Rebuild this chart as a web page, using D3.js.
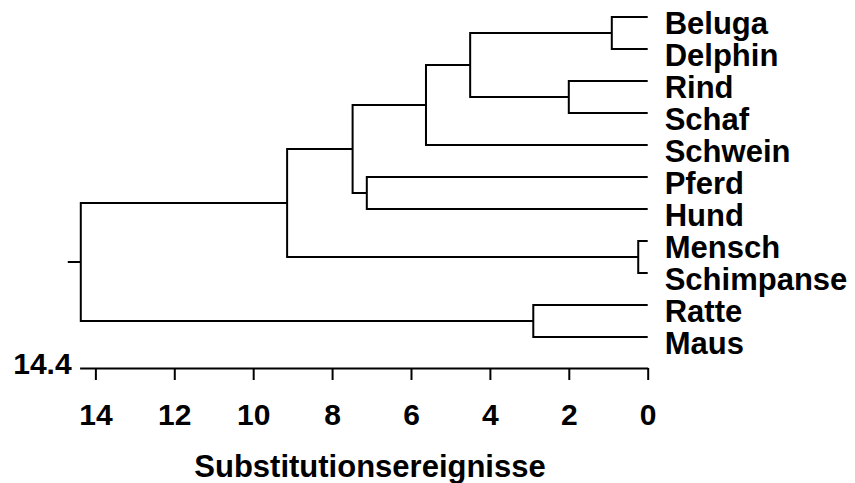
<!DOCTYPE html>
<html>
<head>
<meta charset="utf-8">
<script src="https://cdn.jsdelivr.net/npm/d3@7"></script>
<style>
  body { margin: 0; background: #fff; }
  text { font-family: "Liberation Sans", Arial, sans-serif; font-weight: bold; }
</style>
</head>
<body>
<script>
let width = 855;
let height = 483;

// leaves top to bottom
const leafNames = ["Beluga", "Delphin", "Rind", "Schaf", "Schwein", "Pferd",
  "Hund", "Mensch", "Schimpanse", "Ratte", "Maus"];

// merges: node id, left child, right child, height (substitution events)
const mergeIds    = ["n1", "n2", "n3", "n4", "n5", "n6", "n7", "n8", "n9", "n10"];
const mergeLeft   = ["Beluga", "Rind", "Mensch", "Ratte", "n1", "n5", "Pferd", "n6", "n8", "n9"];
const mergeRight  = ["Delphin", "Schaf", "Schimpanse", "Maus", "n2", "Schwein", "Hund", "n7", "n3", "n4"];
const mergeHeight = [0.91, 2.0, 0.24, 2.9, 4.5, 5.62, 7.12, 7.48, 9.14, 14.37];

const xTicks = [14, 12, 10, 8, 6, 4, 2, 0];
const xMax = 14.4;
const xTitle = "Substitutionsereignisse";

const svg = d3.select("body")
  .append("svg")
  .attr("width", width)
  .attr("height", height);

const x = d3.scaleLinear()
  .domain([xMax, 0])
  .range([79.6, 647.7]);

const y = d3.scalePoint()
  .domain(leafNames)
  .range([17, 337]);

// positions of leaves, then of each merge node (midpoint of its children)
const pos = {};
leafNames.forEach(n => pos[n] = { x: x(0), y: y(n) });

const g = svg.append("g")
  .attr("fill", "none")
  .attr("stroke", "#000")
  .attr("stroke-width", 2);

mergeIds.forEach((id, i) => {
  const a = pos[mergeLeft[i]];
  const b = pos[mergeRight[i]];
  const hx = x(mergeHeight[i]);
  pos[id] = { x: hx, y: (a.y + b.y) / 2 };
  g.append("path")
    .attr("d", `M${a.x},${a.y}H${hx}V${b.y}H${b.x}`);
});

// root stub
const root = pos[mergeIds[mergeIds.length - 1]];
g.append("path").attr("d", `M${root.x},${root.y}H${root.x - 13}`);

// leaf labels
svg.append("g")
  .selectAll("text")
  .data(leafNames)
  .join("text")
  .attr("x", x(0) + 17)
  .attr("y", d => y(d) + 17)
  .attr("font-size", 31)
  .text(d => d);

// axis
const axisY = 368;
const xAxis = svg.append("g")
  .attr("transform", `translate(0,${axisY})`)
  .call(d3.axisBottom(x)
    .tickValues(xTicks)
    .tickFormat(d3.format("d"))
    .tickSize(12)
    .tickSizeOuter(0)
    .tickPadding(24));

xAxis.select(".domain").attr("stroke-width", 2);
xAxis.selectAll(".tick line").attr("stroke-width", 2);
xAxis.selectAll(".tick text")
  .attr("font-size", 30)
  .attr("font-family", "Liberation Sans, Arial, sans-serif")
  .attr("font-weight", "bold");

svg.append("text")
  .attr("x", x(xMax) - 8)
  .attr("y", axisY + 6)
  .attr("text-anchor", "end")
  .attr("font-size", 30)
  .text(xMax);

svg.append("text")
  .attr("x", 370)
  .attr("y", 477)
  .attr("text-anchor", "middle")
  .attr("font-size", 31)
  .text(xTitle);
</script>
</body>
</html>
